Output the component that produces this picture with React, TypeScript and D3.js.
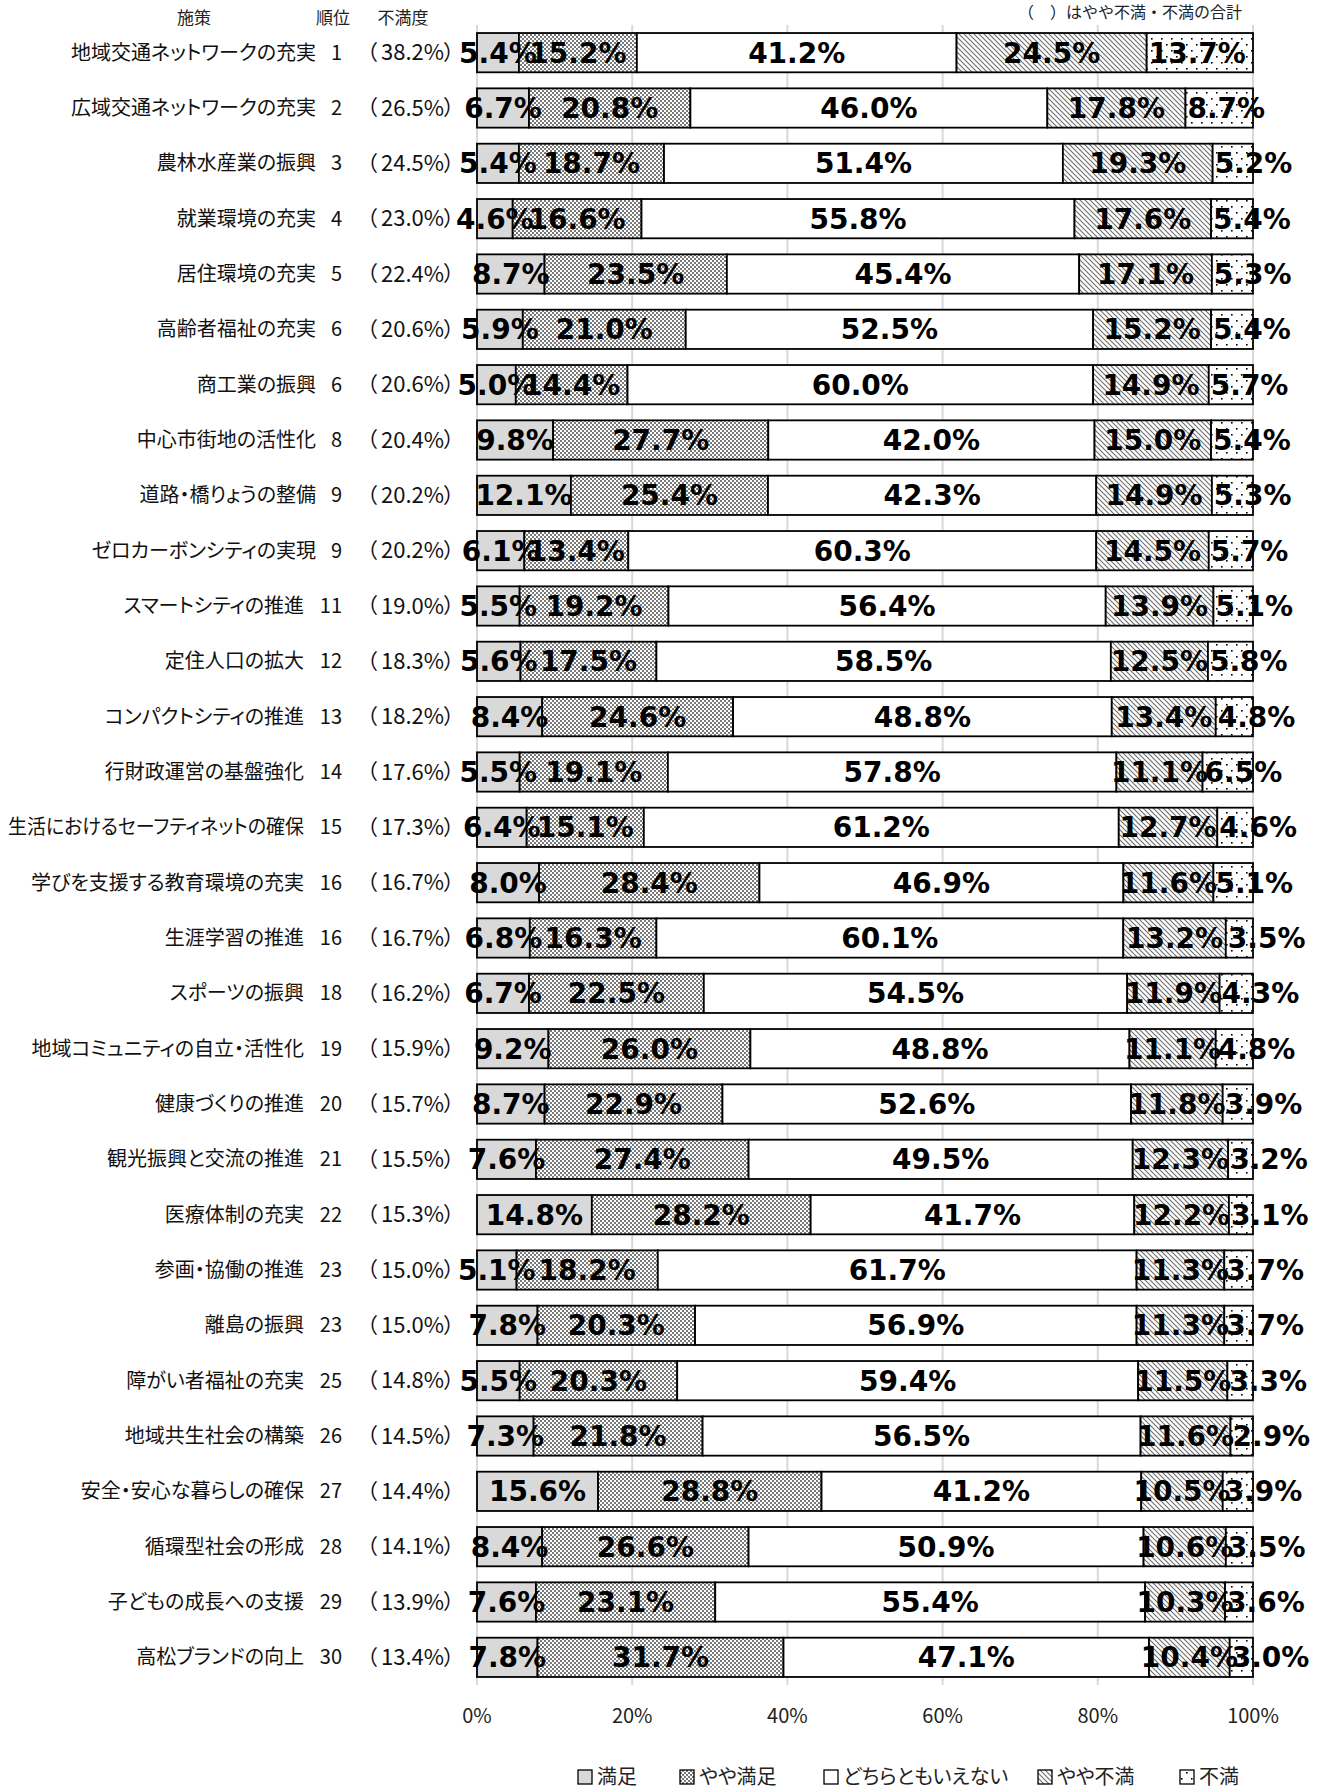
import React, { useLayoutEffect, useRef } from "react";
import * as d3 from "d3";

const categories = [
  "地域交通ネットワークの充実", "広域交通ネットワークの充実", "農林水産業の振興", "就業環境の充実",
  "居住環境の充実", "高齢者福祉の充実", "商工業の振興", "中心市街地の活性化", "道路・橋りょうの整備",
  "ゼロカーボンシティの実現", "スマートシティの推進", "定住人口の拡大", "コンパクトシティの推進",
  "行財政運営の基盤強化", "生活におけるセーフティネットの確保", "学びを支援する教育環境の充実",
  "生涯学習の推進", "スポーツの振興", "地域コミュニティの自立・活性化", "健康づくりの推進",
  "観光振興と交流の推進", "医療体制の充実", "参画・協働の推進", "離島の振興", "障がい者福祉の充実",
  "地域共生社会の構築", "安全・安心な暮らしの確保", "循環型社会の形成", "子どもの成長への支援",
  "高松ブランドの向上",
];
const ranks = [1, 2, 3, 4, 5, 6, 6, 8, 9, 9, 11, 12, 13, 14, 15, 16, 16, 18, 19, 20, 21, 22, 23, 23, 25, 26, 27, 28, 29, 30];
const dissatisfactionTotal = [38.2, 26.5, 24.5, 23.0, 22.4, 20.6, 20.6, 20.4, 20.2, 20.2, 19.0, 18.3, 18.2, 17.6, 17.3, 16.7, 16.7, 16.2, 15.9, 15.7, 15.5, 15.3, 15.0, 15.0, 14.8, 14.5, 14.4, 14.1, 13.9, 13.4];

const satisfied = [5.4, 6.7, 5.4, 4.6, 8.7, 5.9, 5.0, 9.8, 12.1, 6.1, 5.5, 5.6, 8.4, 5.5, 6.4, 8.0, 6.8, 6.7, 9.2, 8.7, 7.6, 14.8, 5.1, 7.8, 5.5, 7.3, 15.6, 8.4, 7.6, 7.8];
const somewhatSatisfied = [15.2, 20.8, 18.7, 16.6, 23.5, 21.0, 14.4, 27.7, 25.4, 13.4, 19.2, 17.5, 24.6, 19.1, 15.1, 28.4, 16.3, 22.5, 26.0, 22.9, 27.4, 28.2, 18.2, 20.3, 20.3, 21.8, 28.8, 26.6, 23.1, 31.7];
const neutral = [41.2, 46.0, 51.4, 55.8, 45.4, 52.5, 60.0, 42.0, 42.3, 60.3, 56.4, 58.5, 48.8, 57.8, 61.2, 46.9, 60.1, 54.5, 48.8, 52.6, 49.5, 41.7, 61.7, 56.9, 59.4, 56.5, 41.2, 50.9, 55.4, 47.1];
const somewhatDissatisfied = [24.5, 17.8, 19.3, 17.6, 17.1, 15.2, 14.9, 15.0, 14.9, 14.5, 13.9, 12.5, 13.4, 11.1, 12.7, 11.6, 13.2, 11.9, 11.1, 11.8, 12.3, 12.2, 11.3, 11.3, 11.5, 11.6, 10.5, 10.6, 10.3, 10.4];
const dissatisfied = [13.7, 8.7, 5.2, 5.4, 5.3, 5.4, 5.7, 5.4, 5.3, 5.7, 5.1, 5.8, 4.8, 6.5, 4.6, 5.1, 3.5, 4.3, 4.8, 3.9, 3.2, 3.1, 3.7, 3.7, 3.3, 2.9, 3.9, 3.5, 3.6, 3.0];

const seriesNames = ["満足", "やや満足", "どちらともいえない", "やや不満", "不満"];
const seriesKeys = ["s0", "s1", "s2", "s3", "s4"];
const xTicks = [0, 0.2, 0.4, 0.6, 0.8, 1.0];

const W = 1332;
const H = 1790;
const PLOT_LEFT = 477;
const PLOT_RIGHT = 1253;
const PLOT_TOP = 25;
const PLOT_BOTTOM = 1685;

const fills = ["#d9d9d9", "url(#pSomewhatSat)", "#ffffff", "url(#pSomewhatDis)", "url(#pDis)"];
const legendX = [578, 680, 824, 1038, 1180];

const JP = "'Noto Sans CJK JP', 'Noto Sans', sans-serif";
const LABEL_FONT = "'DejaVu Sans', Verdana, sans-serif";

export default function App() {
  const nameGroup = useRef<SVGGElement>(null);

  useLayoutEffect(() => {
    const g = nameGroup.current;
    if (!g) return;
    g.querySelectorAll("text.name").forEach((el: any) => {
      const maxW = Number(el.getAttribute("data-maxw"));
      const len = el.getComputedTextLength();
      if (len > maxW) {
        el.setAttribute("textLength", String(maxW));
        el.setAttribute("lengthAdjust", "spacingAndGlyphs");
      }
    });
  }, []);

  const rows = categories.map((c, i) => ({
    cat: c,
    s0: satisfied[i],
    s1: somewhatSatisfied[i],
    s2: neutral[i],
    s3: somewhatDissatisfied[i],
    s4: dissatisfied[i],
  }));
  const stacked = d3.stack<any>().keys(seriesKeys).offset(d3.stackOffsetExpand)(rows);

  const x = d3.scaleLinear().domain([0, 1]).range([PLOT_LEFT, PLOT_RIGHT]);
  const y = d3
    .scaleBand<string>()
    .domain(categories)
    .range([PLOT_TOP, PLOT_BOTTOM])
    .paddingInner(0.29)
    .paddingOuter(0.145);
  const bh = y.bandwidth();
  const pctFmt = d3.format(".1f");

  return (
    <svg
      width={W}
      height={H}
      style={{ position: "absolute", left: 0, top: 0, background: "#fff" }}
      xmlns="http://www.w3.org/2000/svg"
    >
      <defs>
        <pattern id="pSomewhatSat" width="4" height="4" patternUnits="userSpaceOnUse">
          <rect width="4" height="4" fill="#ffffff" />
          <rect x="0" y="0" width="2" height="2" fill="#7a7a7a" />
          <rect x="2" y="2" width="2" height="2" fill="#7a7a7a" />
        </pattern>
        <pattern id="pSomewhatDis" width="5" height="5" patternUnits="userSpaceOnUse">
          <rect width="5" height="5" fill="#ffffff" />
          <path d="M0,0 L5,5 M-1,4 L1,6 M4,-1 L6,1" stroke="#6e6e6e" strokeWidth="1.1" />
        </pattern>
        <pattern id="pDis" width="10" height="12" patternUnits="userSpaceOnUse">
          <rect width="10" height="12" fill="#ffffff" />
          <rect x="1" y="2" width="1.6" height="1.6" fill="#000" />
          <rect x="6" y="8" width="1.6" height="1.6" fill="#000" />
        </pattern>
      </defs>

      <rect x={0} y={0} width={W} height={H} fill="#fff" />

      {/* header */}
      <g fontFamily={JP} fontSize={17} fill="#222">
        <text x={194} y={24} textAnchor="middle">施策</text>
        <text x={333} y={24} textAnchor="middle">順位</text>
        <text x={403} y={24} textAnchor="middle">不満度</text>
        <text x={1242} y={18} textAnchor="end" fontSize={16}>（　）はやや不満・不満の合計</text>
      </g>

      {/* gridlines */}
      {xTicks.map((t) => (
        <line key={t} x1={x(t)} x2={x(t)} y1={PLOT_TOP} y2={PLOT_BOTTOM} stroke="#d9d9d9" strokeWidth={2} />
      ))}

      {/* category labels */}
      <g fontFamily={JP} fontSize={20} fill="#111" ref={nameGroup}>
        {categories.map((c, i) => {
          const cy = (y(c) as number) + bh / 2;
          const rankStr = String(ranks[i]);
          const nameEnd = 342 - rankStr.length * 12 - 14;
          return (
            <g key={c}>
              <text
                className="name"
                data-maxw={nameEnd - 8}
                x={nameEnd}
                y={cy}
                dy="0.35em"
                textAnchor="end"
                style={{ fontFeatureSettings: "'palt'" }}
              >
                {c}
              </text>
              <text x={342} y={cy} dy="0.35em" textAnchor="end">{rankStr}</text>
              <text x={357} y={cy} dy="0.35em" textAnchor="start" fontSize={21}>（</text>
              <text x={444} y={cy} dy="0.35em" textAnchor="end" fontSize={22}>{`${pctFmt(dissatisfactionTotal[i])}%`}</text>
              <text x={443} y={cy} dy="0.35em" textAnchor="start" fontSize={21}>）</text>
            </g>
          );
        })}
      </g>

      {/* bars */}
      {stacked.map((s, si) => (
        <g key={s.key}>
          {s.map((d, i) => (
            <rect
              key={i}
              x={x(d[0])}
              y={y(categories[i])}
              width={x(d[1]) - x(d[0])}
              height={bh}
              fill={fills[si]}
              stroke="#000"
              strokeWidth={1.8}
            />
          ))}
        </g>
      ))}

      {/* data labels */}
      <g fontFamily={LABEL_FONT} fontWeight="bold" fontSize={28} fill="#000">
        {stacked.map((s, si) =>
          s.map((d, i) => {
            const val = (rows[i] as any)[s.key] as number;
            const cy = (y(categories[i]) as number) + bh / 2;
            const isLast = si === stacked.length - 1;
            return (
              <text
                key={`${s.key}-${i}`}
                x={isLast ? x(d[0]) + 2 : (x(d[0]) + x(d[1])) / 2}
                y={cy}
                dy="0.36em"
                textAnchor={isLast ? "start" : "middle"}
              >
                {`${pctFmt(val)}%`}
              </text>
            );
          })
        )}
      </g>

      {/* x axis tick labels */}
      <g fontFamily={JP} fontSize={20} fill="#222">
        {xTicks.map((t) => (
          <text key={t} x={x(t)} y={1716} dy="0.35em" textAnchor="middle">
            {d3.format(".0%")(t)}
          </text>
        ))}
      </g>

      {/* legend */}
      <g fontFamily={JP} fontSize={20} fill="#222">
        {seriesNames.map((n, i) => (
          <g key={n}>
            <rect x={legendX[i]} y={1770} width={14} height={14} fill={fills[i]} stroke="#000" strokeWidth={1.3} />
            <text x={legendX[i] + 19} y={1777} dy="0.35em" style={{ fontFeatureSettings: "'palt'" }}>
              {n}
            </text>
          </g>
        ))}
      </g>
    </svg>
  );
}
